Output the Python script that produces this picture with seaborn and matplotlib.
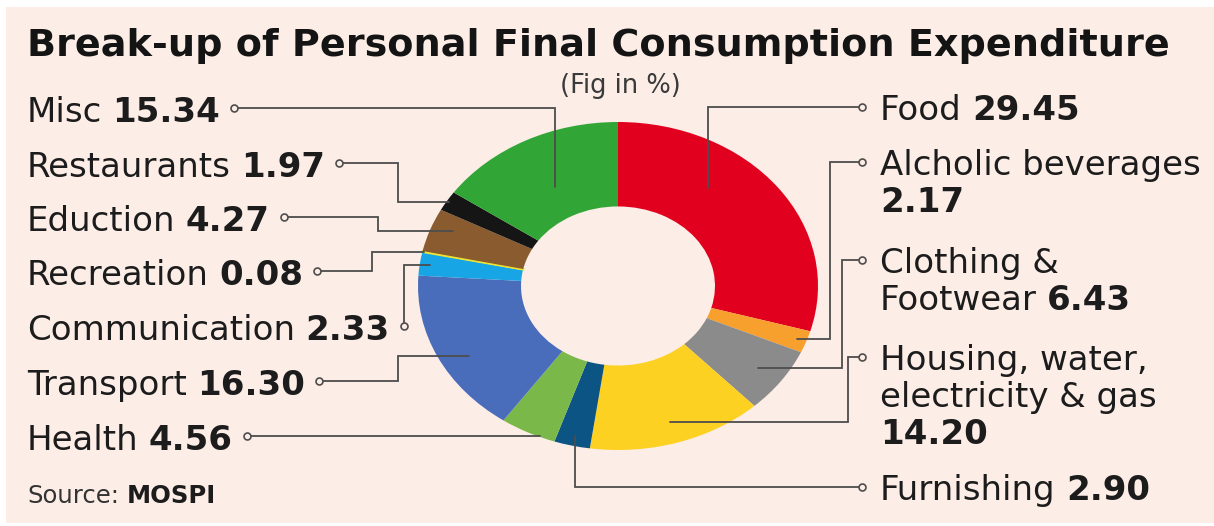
import numpy as np
import matplotlib
matplotlib.use("Agg")
import matplotlib.pyplot as plt
from matplotlib.patches import Rectangle
import seaborn as sns

# ---- data (clockwise from 12 o'clock) ----
categories = ["Food", "Alcholic beverages", "Clothing & Footwear",
              "Housing, water, electricity & gas", "Furnishing", "Health",
              "Transport", "Communication", "Recreation", "Eduction",
              "Restaurants", "Misc"]
shares = [29.45, 2.17, 6.43, 14.20, 2.90, 4.56, 16.30, 2.33, 0.08, 4.27, 1.97, 15.34]
slice_colors = ["#e2001f", "#f7a02e", "#8b8b8b", "#fdd122", "#0c5483", "#7bb84a",
                "#4a6dbb", "#17a5e6", "#ece236", "#8a5b2f", "#151515", "#31a637"]
# how each name is broken over lines in its callout
name_lines = [["Food"], ["Alcholic beverages"], ["Clothing &", "Footwear"],
              ["Housing, water,", "electricity & gas"], ["Furnishing"], ["Health"],
              ["Transport"], ["Communication"], ["Recreation"], ["Eduction"],
              ["Restaurants"], ["Misc"]]
value_on_own_line = [False, True, False, True, False, False,
                     False, False, False, False, False, False]

title_text = "Break-up of Personal Final Consumption Expenditure"
subtitle_text = "(Fig in %)"
source_text = ("Source:", "MOSPI")

# ---- layout (pixels, y from top) ----
W, H = 1214, 526
side = ["R", "R", "R", "R", "R", "L", "L", "L", "L", "L", "L", "L"]
baseline_y = [120, 175, 273, 370, 500, 450, 395, 340, 285, 231, 177, 122]
routes = [("hv", None), ("elbow", 830), ("elbow", 842), ("elbow", 848), ("hv", None),
          ("h", None), ("elbow", 398), ("v", None), ("elbow", 372), ("elbow", 378),
          ("elbow", 398), ("hv", None)]
# where the leader line ends inside its slice: fraction along the slice, radius
anchor_frac = [0.35, 0.5, 0.5, 0.5, 0.5, 0.35, 0.43, 0.5, 0.5, 0.65, 0.5, 0.5]
anchor_r = [0.75, 0.95, 0.86, 0.87, 0.94, 0.95, 0.86, 0.95, 0.99, 0.89, 0.99, 0.68]
pie_cx, pie_cy, pie_rx, pie_ry = 618, 286, 200, 164

BG = "#fcede7"
INK = "#1c1c1c"
LINE = "#4d4d4d"
LBL = 24.5
LINE_GAP = 37

sns.set_style("white")
plt.rcParams["font.family"] = ["DejaVu Sans"]

fig = plt.figure(figsize=(W / 100, H / 100), dpi=100, facecolor="white")
renderer = fig.canvas.get_renderer()

bg = fig.add_axes([0, 0, 1, 1], zorder=0)
bg.set_xlim(0, W)
bg.set_ylim(H, 0)
bg.axis("off")
bg.add_patch(Rectangle((6, 7), W - 6, 516, facecolor=BG, edgecolor="none"))

pie_ax = fig.add_axes([(pie_cx - pie_rx) / W, (H - pie_cy - pie_ry) / H,
                       2 * pie_rx / W, 2 * pie_ry / H], zorder=1)
wedges, _ = pie_ax.pie(shares, colors=slice_colors, startangle=90, counterclock=False,
                       radius=1, wedgeprops=dict(width=0.515, linewidth=0))
pie_ax.set_aspect("auto")
pie_ax.set_xlim(-1, 1)
pie_ax.set_ylim(-1, 1)
pie_ax.set_facecolor("none")
pie_ax.axis("off")
# recreation is a hairline slice, give it an outline so it shows
wedges[8].set_edgecolor(slice_colors[8])
wedges[8].set_linewidth(1.6)

ov = fig.add_axes([0, 0, 1, 1], zorder=2)
ov.set_xlim(0, W)
ov.set_ylim(H, 0)
ov.axis("off")
ov.patch.set_alpha(0)


def anchor_of(wedge, frac, r):
    # slices run clockwise, so theta2 is where each one starts
    ang = np.deg2rad(wedge.theta2 - frac * (wedge.theta2 - wedge.theta1))
    disp = pie_ax.transData.transform((r * np.cos(ang), r * np.sin(ang)))
    return ov.transData.inverted().transform(disp)


def put_line(x, y, reg, bold, size=LBL, color=INK):
    end = x
    if reg:
        t = ov.text(x, y, reg, fontsize=size, color=color, va="baseline", ha="left")
        end = x + t.get_window_extent(renderer).width + (0.42 * size if bold else 0)
    if bold:
        b = ov.text(end, y, bold, fontsize=size, fontweight="bold", color=INK,
                    va="baseline", ha="left")
        end = end + b.get_window_extent(renderer).width
    return end


# title
title = ov.text(27, 56, title_text, fontsize=26, fontweight="bold", color="#141414",
                va="baseline", ha="left")
tw = title.get_window_extent(renderer).width
title.set_fontsize(26 * 1141 / tw)
ov.text(620, 93, subtitle_text, fontsize=18.5, color="#3a3a3a", va="baseline", ha="center")
put_line(27, 503, source_text[0], source_text[1], size=17.5, color="#333333")

# callouts
for i, name in enumerate(categories):
    val = f"{shares[i]:.2f}"
    lines = list(name_lines[i])
    by = baseline_y[i]
    if side[i] == "R":
        x0 = 880
        rows = [(l, None) for l in lines[:-1]]
        if value_on_own_line[i]:
            rows += [(lines[-1], None), (None, val)]
        else:
            rows += [(lines[-1], val)]
        for k, (reg, bold) in enumerate(rows):
            put_line(x0, by + k * LINE_GAP, reg, bold)
        cx, cy = 862, by - 13
    else:
        end = put_line(27, by, lines[0], val)
        cx, cy = end + 14, by - 14

    ax_, ay_ = anchor_of(wedges[i], anchor_frac[i], anchor_r[i])
    kind, ex = routes[i]
    if kind == "hv":
        pts = [(cx, cy), (ax_, cy), (ax_, ay_)]
    elif kind == "h":
        pts = [(cx, cy), (ax_, cy)]
    elif kind == "v":
        pts = [(cx, cy), (cx, ay_), (ax_, ay_)]
    else:
        pts = [(cx, cy), (ex, cy), (ex, ay_), (ax_, ay_)]
    xs, ys = zip(*pts)
    ov.plot(xs, ys, color=LINE, lw=1.3, solid_joinstyle="miter", zorder=3)
    ov.plot([cx], [cy], marker="o", ms=5, mfc=BG, mec=LINE, mew=1.2, zorder=4)

fig.savefig("out.png", dpi=100, facecolor=fig.get_facecolor())
